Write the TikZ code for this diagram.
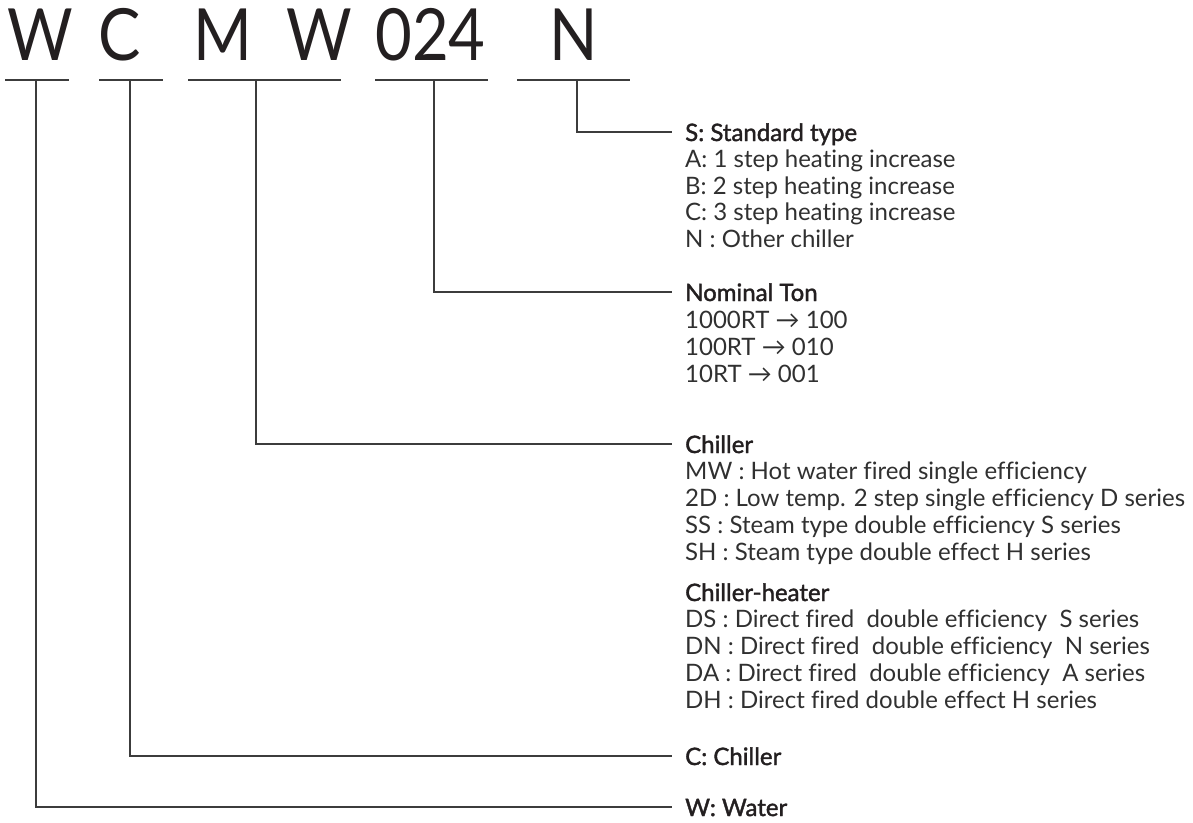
\documentclass[tikz,border=0pt]{standalone}
\usepackage{fontspec}
\setmainfont{Lato}[Ligatures={NoCommon}]
\newfontfamily\bigfont{Lato}[FakeStretch=0.88]
\newfontfamily\headfont{Lato}[FakeBold=1.6,Ligatures={NoCommon}]
\definecolor{ink}{HTML}{231F20}
\definecolor{bodyink}{HTML}{303030}
\definecolor{wire}{HTML}{3C3C3C}
\tikzset{
  big/.style={anchor=base, inner sep=0pt, font=\bigfont\fontsize{72}{72}\selectfont, text=ink},
  head/.style={anchor=base west, inner sep=0pt, text height=18pt, text depth=0pt, font=\headfont\fontsize{24}{26.7}\selectfont, text=ink},
  body/.style={anchor=base west, inner sep=0pt, font=\fontsize{24}{26.7}\selectfont, text=bodyink},
  uline/.style={draw=wire, line width=1.2pt},
  wireline/.style={draw=wire, line width=1.1pt, shorten >=13pt},
}
\begin{document}
\begin{tikzpicture}[x=1pt,y=-1pt]
\useasboundingbox (0,0) rectangle (1193,822);
% code letters
\node[big] (lW) at (40,60) {W};
\node[big] (lC) at (120,60) {C};
\node[big] (lM) at (223,60) {M};
\node[big] (lW2) at (319.5,60) {W};
\node[big] (lNum) at (430.5,60) {024};
\node[big] (lN) at (574,60) {N};
% underlines
\draw[uline] (5,80) -- (69,80);
\draw[uline] (99,80) -- (163,80);
\draw[uline] (188,80) -- (341,80);
\draw[uline] (375,80) -- (488,80);
\draw[uline] (517,80) -- (630,80);
\coordinate (uW) at (36,80);
\coordinate (uC) at (130,80);
\coordinate (uMW) at (256,80);
\coordinate (uNum) at (434,80);
\coordinate (uN) at (577,80);
% S block
\node[head] (hS) at (685,141) {S: Standard type};
\foreach \t [count=\i] in {A: 1 step heating increase,B: 2 step heating increase,C: 3 step heating increase,N : Other chiller}
  \node[body] (bS\i) at (685,141+26.6*\i) {\t};
% Nominal block
\node[head] (hNom) at (685,301) {Nominal Ton};
\foreach \t [count=\i] in {1000RT \char"2192{} 100,100RT \char"2192{} 010,10RT \char"2192{} 001}
  \node[body] (bNom\i) at (685,301+27*\i) {\t};
% Chiller block
\node[head] (hCh) at (685,453) {Chiller};
\foreach \t [count=\i] in {MW : Hot water fired single efficiency,2D : Low temp. 2 step single efficiency D series,SS : Steam type double efficiency S series,SH : Steam type double effect H series}
  \node[body] (bCh\i) at (685,453+26.8*\i) {\t};
% Chiller-heater block
\node[head] (hChH) at (685,601) {Chiller-heater};
\foreach \t [count=\i] in {DS : Direct fired\ \ double efficiency\ \ S series,DN : Direct fired\ \ double efficiency\ \ N series,DA : Direct fired\ \ double efficiency\ \ A series,DH : Direct fired double effect H series}
  \node[body] (bChH\i) at (685,601+26.8*\i) {\t};
% single headings
\node[head] (hC) at (685,765) {C: Chiller};
\node[head] (hW) at (685,816) {W: Water};
% connectors
\draw[wireline] (uN) |- (hS.west);
\draw[wireline] (uNum) |- (hNom.west);
\draw[wireline] (uMW) |- (hCh.west);
\draw[wireline] (uC) |- (hC.west);
\draw[wireline] (uW) |- (hW.west);
\end{tikzpicture}
\end{document}
